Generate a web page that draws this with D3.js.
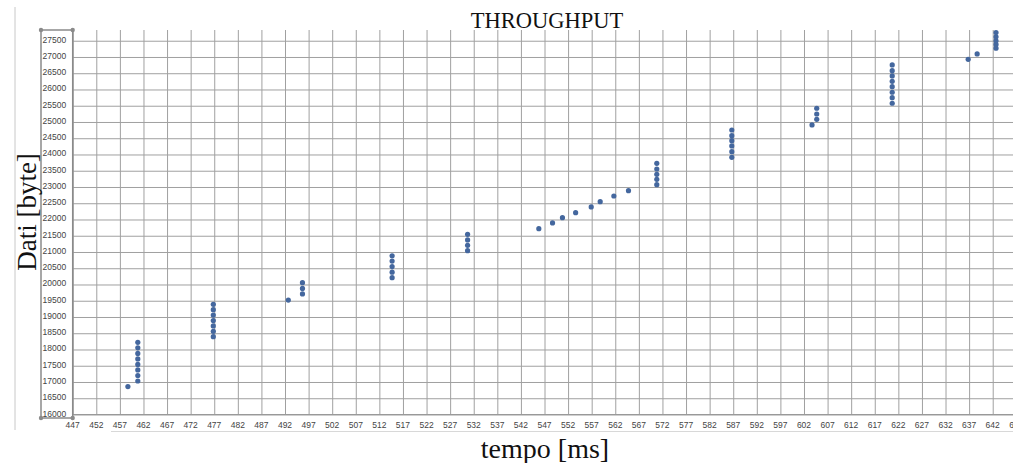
<!DOCTYPE html>
<html>
<head>
<meta charset="utf-8">
<script src="https://cdn.jsdelivr.net/npm/d3@7"></script>
<style>
  body { margin: 0; background: #fff; }
  svg { display: block; }
  .grid line { stroke: #a0a0a0; stroke-width: 1; }
  .grid .domain { display: none; }
  .tick-label { font-family: "Liberation Sans", Arial, sans-serif; font-size: 8.5px; fill: #444; }
  .serif { font-family: "Liberation Serif", "Times New Roman", serif; fill: #111; }
</style>
</head>
<body>
<svg id="chart" width="1013" height="463"></svg>
<script>
// tempo [ms] and dati [byte] for each point
const tempoMs = [
  458.7,
  460.8, 460.8, 460.8, 460.8, 460.8, 460.8, 460.8, 460.8,
  476.8, 476.8, 476.8, 476.8, 476.8, 476.8, 476.8,
  492.7,
  495.7, 495.7, 495.7,
  514.7, 514.7, 514.7, 514.7, 514.7,
  530.7, 530.7, 530.7, 530.7,
  545.8, 548.7, 550.8, 553.6, 556.9, 558.8, 561.7, 564.8,
  570.8, 570.8, 570.8, 570.8, 570.8,
  586.7, 586.7, 586.7, 586.7, 586.7, 586.7,
  603.7,
  604.7, 604.7, 604.7,
  620.7, 620.7, 620.7, 620.7, 620.7, 620.7, 620.7, 620.7,
  636.8, 638.7,
  642.7, 642.7, 642.7, 642.7, 642.7
];
const datiByte = [
  16860,
  17030, 17200, 17370, 17540, 17710, 17880, 18050, 18220,
  18395, 18560, 18725, 18890, 19060, 19225, 19390,
  19520,
  19710, 19880, 20055,
  20210, 20380, 20550, 20720, 20885,
  21040, 21205, 21370, 21545,
  21717, 21893, 22056, 22210, 22385, 22549, 22723, 22888,
  23071, 23237, 23391, 23554, 23729,
  23914, 24086, 24262, 24425, 24579, 24754,
  24908,
  25083, 25246, 25422,
  25576, 25748, 25914, 26086, 26252, 26416, 26579, 26754,
  26929, 27093,
  27270, 27385, 27500, 27620, 27750
];
const xTicks = d3.range(447, 648, 5);
const yTicks = d3.range(16000, 27501, 500);
const xDomain = [447, 647];
const yDomain = [16000, 27830];

const title = 'THROUGHPUT';
const xTitle = 'tempo [ms]';
const yTitle = 'Dati [byte]';

const svg = d3.select('#chart');

const plotLeft = 72.7;
const plotTop = 30;
const plotBottom = 414.5;

const xScale = d3.scaleLinear().domain(xDomain).range([plotLeft, 1016.3]);
const yScale = d3.scaleLinear().domain(yDomain).range([plotBottom, plotTop]);

// outer chart border pieces
svg.append('line')
  .attr('x1', 15).attr('x2', 15).attr('y1', 7).attr('y2', 430)
  .attr('stroke', '#c8c8c8');
svg.append('line')
  .attr('x1', 111).attr('x2', 1013).attr('y1', 431.5).attr('y2', 431.5)
  .attr('stroke', '#d8d8d8');

// vertical grid lines
svg.append('g')
  .attr('class', 'grid')
  .attr('transform', `translate(0,${plotBottom})`)
  .call(d3.axisBottom(xScale).tickValues(xTicks).tickSize(-(plotBottom - plotTop)).tickFormat(''));

// horizontal grid lines
svg.append('g')
  .attr('class', 'grid')
  .attr('transform', `translate(${plotLeft},0)`)
  .call(d3.axisLeft(yScale).tickValues(yTicks).tickSize(-(1013 - plotLeft)).tickFormat(''));

// x-axis line
svg.append('line')
  .attr('x1', plotLeft).attr('x2', 1013)
  .attr('y1', plotBottom).attr('y2', plotBottom)
  .attr('stroke', '#999');

// selected y-axis box with handles
const boxLeft = 41;
const boxBottom = 418;
svg.append('rect')
  .attr('x', boxLeft).attr('y', plotTop)
  .attr('width', plotLeft - boxLeft).attr('height', boxBottom - plotTop)
  .attr('fill', 'none').attr('stroke', '#8a8a8a').attr('stroke-width', 1.5);
[[boxLeft, plotTop], [plotLeft, plotTop], [boxLeft, boxBottom], [plotLeft, boxBottom]].forEach(([cx, cy]) => {
  svg.append('circle').attr('cx', cx).attr('cy', cy).attr('r', 2.2).attr('fill', '#8a8a8a');
});

// y tick labels
svg.append('g')
  .selectAll('text')
  .data(yTicks)
  .enter()
  .append('text')
  .attr('class', 'tick-label')
  .attr('x', 42.5)
  .attr('y', (d) => yScale(d) + 2)
  .text((d) => d);

// x tick labels (the last one runs off the right edge, as in the picture)
svg.append('g')
  .selectAll('text')
  .data(xTicks)
  .enter()
  .append('text')
  .attr('class', 'tick-label')
  .attr('text-anchor', 'middle')
  .attr('x', (d) => xScale(d))
  .attr('y', 428)
  .text((d) => d);

// points
svg.append('g')
  .selectAll('circle')
  .data(tempoMs.map((t, i) => [t, datiByte[i]]))
  .enter()
  .append('circle')
  .attr('cx', (d) => xScale(d[0]))
  .attr('cy', (d) => yScale(d[1]))
  .attr('r', 2.6)
  .attr('fill', '#44679e');

// titles
svg.append('text')
  .attr('class', 'serif')
  .attr('x', 547).attr('y', 28)
  .attr('text-anchor', 'middle')
  .style('font-size', '22.5px')
  .text(title);

svg.append('text')
  .attr('class', 'serif')
  .attr('x', 545).attr('y', 458)
  .attr('text-anchor', 'middle')
  .style('font-size', '28px')
  .text(xTitle);

svg.append('text')
  .attr('class', 'serif')
  .attr('transform', 'translate(36,212) rotate(-90)')
  .attr('text-anchor', 'middle')
  .style('font-size', '27px')
  .text(yTitle);
</script>
</body>
</html>
